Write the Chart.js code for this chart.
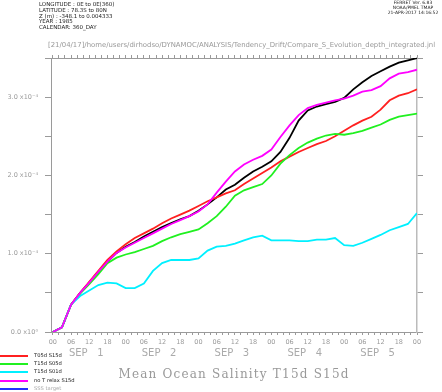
<!DOCTYPE html>
<html>
<head>
<meta charset="utf-8">
<script src="https://cdn.jsdelivr.net/npm/chart.js@4.4.0/dist/chart.umd.min.js"></script>
<style>
body { margin:0; background:#fff; }
#wrap { position:relative; width:442px; height:392px; overflow:hidden; font-family:"DejaVu Sans", sans-serif; }
canvas { position:absolute; left:0; top:0; }
.hdr { position:absolute; left:39px; top:2px; font-size:5.5px; line-height:5.8px; color:#222; white-space:pre; }
.ferret { position:absolute; left:384px; width:58px; top:1px; font-size:4.5px; line-height:4.8px; text-align:center; color:#222; white-space:pre; }
.path { position:absolute; left:48px; top:41px; font-size:6.9px; color:#999; white-space:pre; }
.title { position:absolute; left:0; width:468px; top:367px; text-align:center; font-family:"DejaVu Serif", serif; font-size:12px; letter-spacing:1.2px; color:#999; white-space:pre; }
.leg { position:absolute; left:0; font-size:5.2px; white-space:pre; }
.leg span.ln { position:absolute; left:0; top:0; width:28px; height:2px; }
.leg span.tx { position:absolute; left:34px; top:-3px; }
</style>
</head>
<body>
<div id="wrap">
<canvas id="myChart" width="442" height="392"></canvas>
<div class="hdr">LONGITUDE : 0E to 0E(360)
LATITUDE : 78.3S to 80N
Z (m) : -348.1 to 0.004333
YEAR : 1985
CALENDAR: 360_DAY</div>
<div class="ferret">FERRET Ver. 6.83
NOAA/PMEL TMAP
21-APR-2017 14:16:52</div>
<div class="path">[21/04/17]/home/users/dirhodso/DYNAMOC/ANALYSIS/Tendency_Drift/Compare_S_Evolution_depth_integrated.jnl</div>
<div class="title">Mean Ocean Salinity T15d S15d</div>
</div>
<script>
// hours since 00 SEP 1, every 3 h
var hours = [0,3,6,9,12,15,18,21,24,27,30,33,36,39,42,45,48,51,54,57,60,63,66,69,72,75,78,81,84,87,90,93,96,99,102,105,108,111,114,117,120];

// values in units of 1e-4
var t05dS15d = [0,0.06,0.35,0.50,0.64,0.78,0.92,1.03,1.12,1.20,1.26,1.32,1.39,1.45,1.50,1.55,1.61,1.67,1.72,1.77,1.81,1.89,1.96,2.03,2.10,2.18,2.24,2.30,2.35,2.40,2.44,2.50,2.57,2.64,2.70,2.75,2.84,2.96,3.02,3.05,3.10];
var t15dS05d = [0,0.06,0.35,0.49,0.61,0.74,0.88,0.95,0.99,1.02,1.06,1.10,1.16,1.21,1.25,1.28,1.31,1.39,1.48,1.60,1.74,1.81,1.85,1.89,2.00,2.15,2.26,2.35,2.42,2.47,2.51,2.53,2.52,2.54,2.57,2.61,2.65,2.71,2.75,2.77,2.79];
var t15dS01d = [0,0.06,0.35,0.46,0.53,0.60,0.63,0.62,0.56,0.56,0.62,0.78,0.88,0.92,0.92,0.92,0.94,1.04,1.09,1.10,1.13,1.17,1.21,1.23,1.17,1.17,1.17,1.16,1.16,1.18,1.18,1.20,1.11,1.10,1.14,1.19,1.24,1.30,1.34,1.38,1.52];
var noTrelaxS15d = [0,0.06,0.35,0.50,0.63,0.77,0.90,1.01,1.08,1.14,1.20,1.26,1.32,1.38,1.43,1.48,1.54,1.63,1.78,1.92,2.05,2.14,2.20,2.25,2.33,2.49,2.64,2.77,2.86,2.90,2.93,2.96,2.98,3.02,3.07,3.09,3.14,3.24,3.30,3.32,3.35];
var blackLine = [0,0.06,0.35,0.50,0.63,0.77,0.90,1.01,1.09,1.15,1.22,1.28,1.34,1.39,1.44,1.48,1.55,1.63,1.72,1.82,1.88,1.97,2.05,2.11,2.18,2.30,2.48,2.70,2.83,2.88,2.91,2.94,2.99,3.10,3.19,3.27,3.33,3.39,3.44,3.47,3.50];

var dayLabels = ['SEP   1','SEP   2','SEP   3','SEP   4','SEP   5'];
var hourLabels = ['00','06','12','18'];
var legendNames = ['T05d S15d','T15d S05d','T15d S01d','no T relax S15d','SSS target'];
var legendColors = ['#ff2020','#20f020','#00f0ff','#ff00ff','#2030ff'];

function pts(arr) {
  return hours.map(function(h, i) { return {x: h, y: arr[i]}; });
}

function makeTicks(step, from, to) {
  var t = [];
  for (var v = from; v <= to + 1e-9; v += step) t.push({value: Math.round(v * 100) / 100});
  return t;
}

var grey = '#9a9a9a';
var ctx = document.getElementById("myChart").getContext('2d');

var dayPlugin = {
  id: 'days',
  afterDraw: function(chart) {
    var xs = chart.scales.x;
    var c = chart.ctx;
    c.save();
    c.font = '10px "DejaVu Sans"';
    c.fillStyle = '#aaa';
    c.textAlign = 'center';
    c.textBaseline = 'middle';
    for (var i = 0; i < dayLabels.length; i++) {
      c.fillText(dayLabels[i], xs.getPixelForValue(24 * i + 12) - 3, 353);
    }
    c.restore();
  }
};

var lineChart = new Chart(ctx, {
  type: 'line',
  data: {
    datasets: [
      {data: pts(noTrelaxS15d), borderColor: legendColors[3], order: 0},
      {data: pts(t15dS01d), borderColor: legendColors[2], order: 1},
      {data: pts(t15dS05d), borderColor: legendColors[1], order: 2},
      {data: pts(t05dS15d), borderColor: legendColors[0], order: 3},
      {data: pts(blackLine), borderColor: '#000000', order: 4}
    ]
  },
  options: {
    responsive: false,
    animation: false,
    elements: {
      line: {borderWidth: 1.8, tension: 0, fill: false},
      point: {radius: 0}
    },
    plugins: {legend: {display: false}, tooltip: {enabled: false}},
    layout: {padding: 0},
    scales: {
      x: {
        type: 'linear', position: 'bottom', min: -0.6, max: 120,
        afterBuildTicks: function(s) { s.ticks = makeTicks(2, 0, 120); },
        afterFit: function(s) { s.height = 60; },
        border: {color: grey},
        grid: {drawOnChartArea: false, tickLength: 3, color: grey},
        ticks: {
          autoSkip: false, maxRotation: 0, padding: 3, color: grey,
          font: {family: 'DejaVu Sans', size: 6.5},
          callback: function(v) { return v % 6 === 0 ? hourLabels[(v % 24) / 6] : ''; }
        }
      },
      x2: {
        type: 'linear', position: 'top', min: -0.6, max: 120,
        afterBuildTicks: function(s) { s.ticks = makeTicks(2, 0, 120); },
        afterFit: function(s) { s.height = 58; },
        border: {color: grey},
        grid: {drawOnChartArea: false, tickLength: 3, color: grey},
        ticks: {display: false}
      },
      y: {
        position: 'left', min: 0, max: 3.5,
        afterBuildTicks: function(s) { s.ticks = makeTicks(0.5, 0, 3.5); },
        afterFit: function(s) { s.width = 51; },
        border: {color: grey},
        grid: {drawOnChartArea: false, tickLength: 6, color: grey},
        ticks: {
          padding: 7, color: grey,
          font: {family: 'DejaVu Sans', size: 6.5},
          callback: function(v) {
            if (Math.abs(v - Math.round(v)) > 1e-6) return '';
            return v === 0 ? '0.0 x10\u2070' : v.toFixed(1) + ' x10\u207B\u2074';
          }
        }
      },
      y2: {
        position: 'right', min: 0, max: 3.5,
        afterBuildTicks: function(s) { s.ticks = makeTicks(0.5, 0, 3.5); },
        afterFit: function(s) { s.width = 25; },
        border: {color: '#bbb', width: 1.5},
        grid: {drawOnChartArea: false, tickLength: 6, color: grey},
        ticks: {display: false}
      }
    }
  },
  plugins: [dayPlugin]
});

// legend below the plot
var wrap = document.getElementById('wrap');
for (var i = 0; i < legendNames.length; i++) {
  var d = document.createElement('div');
  d.className = 'leg';
  d.style.top = (355 + i * 8.2) + 'px';
  d.innerHTML = '<span class="ln" style="background:' + legendColors[i] + '"></span><span class="tx" style="color:' + (i < 4 ? '#222' : '#aaa') + '">' + legendNames[i] + '</span>';
  wrap.appendChild(d);
}
</script>
</body>
</html>
